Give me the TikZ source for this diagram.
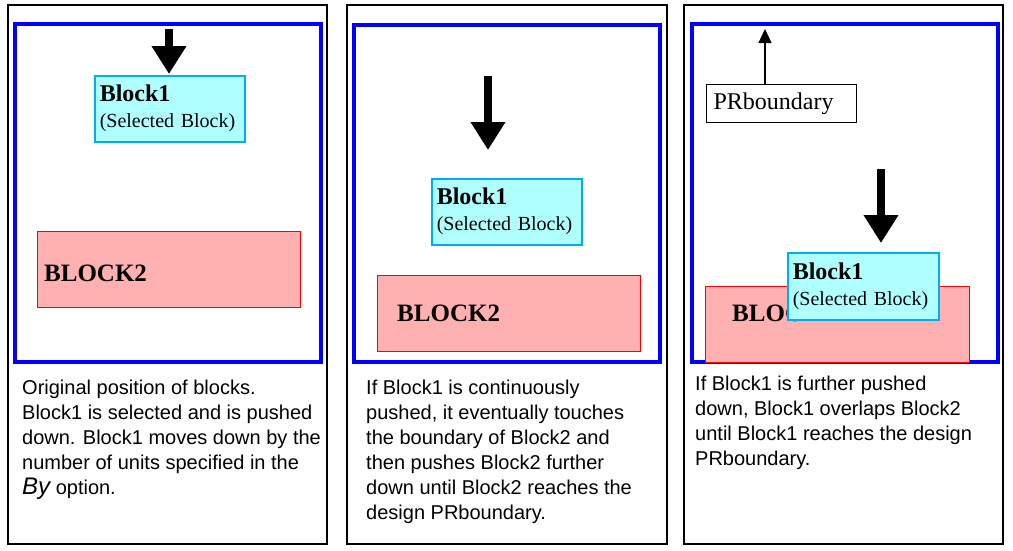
\documentclass[tikz,border=0pt]{standalone}
\usepackage{fontspec}
\setmainfont{Liberation Serif}
\newfontfamily\capfont{Liberation Sans}
\usetikzlibrary{positioning,arrows.meta}
\definecolor{selcyan}{RGB}{176,255,255}
\definecolor{blockpink}{RGB}{255,176,176}

\begin{document}
\begin{tikzpicture}[
    x = 1pt, y = -1pt,
    panel/.style={draw, line width=1.5pt},
    design/.style={draw=blue, line width=4pt},
    blockone/.style={draw=cyan, fill=selcyan, line width=1.5pt, anchor=north west,
        align=left, inner sep=5pt, text width=140pt, minimum height=66pt,
        font=\fontsize{20}{26}\selectfont},
    blocktwo/.style={draw=red, fill=blockpink, line width=1.2pt, anchor=north west,
        minimum width=263pt, minimum height=76pt},
    blockname/.style={font=\bfseries\fontsize{25}{28}\selectfont, inner sep=0pt},
    push/.style={line width=8pt, -{Triangle[width=33pt, length=28pt]}},
    caption/.style={anchor=north west, align=left, inner sep=0pt,
        font=\capfont\fontsize{20}{25}\selectfont}
]
    \useasboundingbox (0,0) rectangle (1013,550);

    % first panel
    \draw[panel] (8,5) rectangle (327,544);
    \draw[design] (15,24) rectangle (321,362);
    \coordinate (s1) at (169,29);
    \coordinate (t1) at (169,74);
    \draw[push] (s1) -- (t1);
    \node[blockone] (sel1) at (94,75) {{\bfseries\fontsize{24}{26}\selectfont Block1}\\(Selected Block)};
    \node[blocktwo] (blk1) at (37,231) {};
    \node[blockname, right=7pt of blk1.west, anchor=west, yshift=-4pt] (name1) {BLOCK2};
    \node[caption] (cap1) at (22,380) {Original position of blocks.\\Block1 is selected and is pushed\\down. Block1 moves down by the\\number of units specified in the\\{\fontsize{24}{25}\selectfont\itshape By} option.};

    % second panel
    \draw[panel] (347,5) rectangle (667,544);
    \draw[design] (354,25) rectangle (660,362);
    \coordinate (s2) at (488,76);
    \coordinate (t2) at (488,150);
    \draw[push] (s2) -- (t2);
    \node[blockone] (sel2) at (431,178) {{\bfseries\fontsize{24}{26}\selectfont Block1}\\(Selected Block)};
    \node[blocktwo] (blk2) at (377,275) {};
    \node[blockname, right=20pt of blk2.west, anchor=west] (name2) {BLOCK2};
    \node[caption] (cap2) at (366,380) {If Block1 is continuously\\pushed, it eventually touches\\the boundary of Block2 and\\then pushes Block2 further\\down until Block2 reaches the\\design PRboundary.};

    % third panel
    \draw[panel] (684,5) rectangle (1003,544);
    \draw[design] (692,24) rectangle (998,362);
    \node[blocktwo, minimum width=264pt] (blk3) at (705,286) {};
    \node[blockname, right=27pt of blk3.west, anchor=west, yshift=11pt] (name3) {BLOCK2};
    \coordinate (s3) at (881,169);
    \coordinate (t3) at (881,243);
    \draw[push] (s3) -- (t3);
    \node[blockone, text width=141pt, minimum height=67pt] (sel3) at (787,252) {{\bfseries\fontsize{24}{26}\selectfont Block1}\\(Selected Block)};
    \node[draw, line width=1.2pt, anchor=north west, inner sep=7pt, text width=136pt,
        minimum height=38pt, font=\fontsize{24}{26}\selectfont] (prb) at (706,84) {PRboundary};
    \coordinate (pr3) at ([xshift=59pt]prb.north west);
    \coordinate (edge3) at (765,29);
    \draw[line width=1.2pt, -{Triangle[width=13pt, length=14pt]}] (pr3) -- (edge3);
    \node[caption] (cap3) at (695,376) {If Block1 is further pushed\\down, Block1 overlaps Block2\\until Block1 reaches the design\\PRboundary.};
\end{tikzpicture}
\end{document}
